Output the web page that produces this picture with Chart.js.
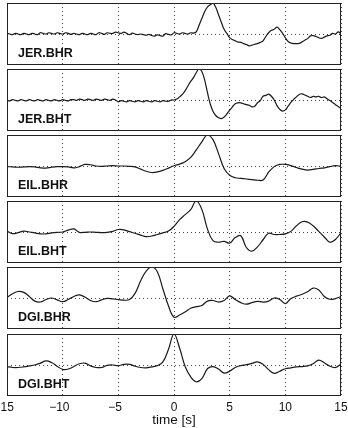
<!DOCTYPE html>
<html>
<head>
<meta charset="utf-8">
<script src="https://cdn.jsdelivr.net/npm/chart.js@4.4.1/dist/chart.umd.min.js"></script>
<style>
  html, body { margin: 0; padding: 0; background: #fff; }
  body { width: 348px; height: 428px; position: relative; overflow: hidden; }
  canvas { position: absolute; left: 0; }
</style>
</head>
<body>
<canvas id="c0" width="348" height="62" style="top:3px"></canvas>
<canvas id="c1" width="348" height="62" style="top:69px"></canvas>
<canvas id="c2" width="348" height="62" style="top:135px"></canvas>
<canvas id="c3" width="348" height="62" style="top:201px"></canvas>
<canvas id="c4" width="348" height="62" style="top:267px"></canvas>
<canvas id="c5" width="348" height="94" style="top:334px"></canvas>
<script>
// station / component names, one per panel
const stations = ['JER.BHR', 'JER.BHT', 'EIL.BHR', 'EIL.BHT', 'DGI.BHR', 'DGI.BHT'];
const xTicks = [-15, -10, -5, 0, 5, 10, 15];
const xTitle = 'time [s]';

// normalised traces, -15 s .. 15 s (JER every 0.25 s, others every 0.5 s)
const jerBhr = [
  0.02, 0.00, -0.02, 0.02, 0.00, -0.02, 0.02, 0.00,
  -0.02, 0.02, 0.00, -0.02, 0.04, 0.02, 0.00, 0.04,
  0.02, 0.00, 0.04, 0.02, 0.00, 0.04, 0.02, -0.01,
  0.02, 0.00, -0.02, 0.02, 0.00, -0.02, 0.02, 0.00,
  -0.02, 0.04, 0.02, -0.01, 0.04, 0.02, 0.02, 0.06,
  0.04, 0.02, 0.06, 0.02, -0.02, 0.03, 0.00, -0.02,
  0.00, -0.02, -0.04, -0.01, -0.05, -0.07, -0.03, -0.05,
  -0.07, 0.01, -0.01, -0.03, 0.04, 0.02, 0.00, 0.04,
  0.02, 0.00, 0.04, 0.03, 0.07, 0.28, 0.50, 0.72,
  0.87, 0.94, 1.00, 0.86, 0.62, 0.38, 0.15, 0.02,
  -0.12, -0.18, -0.22, -0.26, -0.27, -0.31, -0.34, -0.38,
  -0.36, -0.33, -0.31, -0.27, -0.22, -0.08, 0.04, 0.12,
  0.15, 0.22, 0.14, 0.02, -0.12, -0.24, -0.29, -0.31,
  -0.31, -0.30, -0.26, -0.20, -0.15, -0.06, -0.05, -0.08,
  -0.12, -0.14, -0.10, -0.06, -0.04, 0.02, 0.00, 0.07,
  0.00
];
const jerBht = [
  -0.01, -0.03, 0.01, -0.01, -0.03, 0.01, -0.01, -0.03,
  0.01, -0.01, -0.03, 0.01, -0.01, -0.03, 0.01, -0.01,
  -0.03, 0.01, -0.01, -0.03, 0.01, -0.01, -0.03, 0.01,
  0.01, -0.01, 0.03, 0.01, -0.01, 0.03, 0.01, -0.01,
  0.03, 0.01, -0.01, 0.03, 0.01, -0.01, 0.03, 0.00,
  -0.06, -0.02, -0.04, -0.06, -0.02, -0.04, -0.06, -0.02,
  -0.04, -0.06, -0.02, -0.04, -0.06, -0.02, -0.04, -0.06,
  -0.02, -0.04, -0.04, 0.00, 0.00, 0.03, 0.10, 0.18,
  0.30, 0.45, 0.60, 0.72, 0.88, 1.00, 0.92, 0.65,
  0.25, -0.12, -0.36, -0.50, -0.57, -0.60, -0.55, -0.45,
  -0.33, -0.22, -0.12, -0.09, -0.09, -0.12, -0.15, -0.17,
  -0.22, -0.20, -0.09, -0.02, 0.12, 0.15, 0.19, 0.12,
  0.00, -0.18, -0.30, -0.36, -0.32, -0.20, -0.08, 0.02,
  0.10, 0.18, 0.20, 0.16, 0.12, 0.08, 0.12, 0.10,
  0.12, 0.08, 0.10, 0.04, -0.02, -0.08, -0.15, -0.21,
  -0.27
];
const eilBhr = [
  -0.02, -0.03, -0.04, -0.03, -0.02, -0.03, -0.06, -0.07, -0.04, -0.02,
  -0.02, -0.03, -0.06, -0.02, 0.05, 0.04, 0.00, -0.01, 0.00, 0.01,
  0.00, 0.00, -0.01, -0.03, -0.10, -0.17, -0.21, -0.19, -0.14, -0.07,
  0.01, 0.06, 0.14, 0.28, 0.52, 0.78, 1.00, 0.85, 0.40, -0.08,
  -0.30, -0.38, -0.40, -0.42, -0.44, -0.46, -0.45, -0.20, -0.02, 0.05,
  0.05, 0.01, -0.05, -0.10, -0.13, -0.11, -0.08, -0.06, -0.02, 0.01,
  -0.01
];
const eilBht = [
  0.03, -0.05, -0.02, 0.03, 0.00, -0.03, -0.06, -0.06, -0.03, -0.01,
  0.00, 0.06, 0.10, -0.01, -0.01, 0.00, -0.01, -0.02, -0.01, 0.02,
  0.08, 0.07, 0.01, -0.04, -0.10, -0.15, -0.13, -0.08, -0.03, 0.03,
  0.18, 0.40, 0.56, 0.72, 1.00, 0.73, 0.10, -0.28, -0.33, -0.30,
  -0.36, -0.18, -0.12, -0.50, -0.62, -0.48, -0.25, -0.04, -0.08, -0.08,
  -0.06, 0.02, 0.20, 0.33, 0.32, 0.20, 0.02, -0.16, -0.33, -0.24,
  -0.02
];
const dgiBhr = [
  0.02, 0.14, 0.21, 0.18, 0.05, -0.10, -0.13, -0.05, 0.00, -0.06,
  -0.12, -0.05, 0.05, 0.10, 0.03, -0.08, -0.12, -0.06, -0.01, -0.03,
  -0.05, -0.07, -0.05, 0.15, 0.55, 0.87, 1.00, 0.85, 0.30, -0.25,
  -0.62, -0.55, -0.45, -0.33, -0.28, -0.24, -0.10, -0.08, -0.13, -0.08,
  0.07, -0.05, -0.15, -0.20, -0.15, -0.11, -0.13, -0.10, 0.00, -0.05,
  -0.18, -0.02, 0.06, 0.12, 0.20, 0.32, 0.26, 0.05, -0.04, -0.02,
  0.05
];
const dgiBht = [
  -0.05, -0.08, -0.08, -0.06, -0.03, 0.00, 0.06, 0.13, 0.08, -0.04,
  -0.14, -0.13, -0.05, 0.04, 0.06, -0.03, -0.08, -0.08, -0.01, 0.00,
  -0.02, 0.02, 0.02, -0.04, -0.08, -0.09, -0.06, -0.02, 0.10, 0.50,
  1.00, 0.55, -0.05, -0.38, -0.54, -0.44, -0.12, -0.05, -0.13, -0.26,
  -0.20, -0.08, -0.02, 0.01, 0.05, 0.10, 0.02, -0.15, -0.27, -0.20,
  -0.12, -0.09, -0.06, -0.05, -0.03, 0.04, 0.16, 0.07, -0.04, -0.08,
  0.03
];
const traces = [jerBhr, jerBht, eilBhr, eilBht, dgiBhr, dgiBht];

Chart.defaults.font.family = '"Liberation Sans", Arial, Helvetica, sans-serif';
Chart.defaults.color = '#111';

// box round the axes + station label in the lower left corner
const boxPlugin = {
  id: 'box',
  afterDraw(chart, args, opts) {
    const { ctx, chartArea: a } = chart;
    ctx.save();
    ctx.strokeStyle = '#222';
    ctx.lineWidth = 1;
    ctx.strokeRect(a.left + 0.5, a.top + 0.5, a.width - 1, a.height - 1);
    ctx.fillStyle = '#111';
    ctx.font = 'bold 12.5px "Liberation Sans", Arial, sans-serif';
    ctx.textBaseline = 'alphabetic';
    ctx.fillText(opts.label, a.left + 11, a.top + 54);
    ctx.restore();
  }
};

// matlab style minus; trailing spaces keep the digits centred on the tick
const minusFmt = v => v < 0 ? '\u2212' + Math.abs(v) + '  ' : String(v);

traces.forEach((vals, i) => {
  const last = i === traces.length - 1;
  const step = 30 / (vals.length - 1);
  const points = vals.map((v, k) => ({ x: -15 + k * step, y: v }));
  new Chart(document.getElementById('c' + i), {
    type: 'line',
    data: {
      datasets: [{
        data: points,
        borderColor: '#1a1a1a',
        borderWidth: 1.2,
        pointRadius: 0,
        tension: 0.4,
        fill: false
      }]
    },
    options: {
      responsive: false,
      animation: false,
      events: [],
      layout: { padding: { left: 7, right: 7, top: 0, bottom: 0 } },
      plugins: {
        legend: { display: false },
        tooltip: { enabled: false },
        box: { label: stations[i] }
      },
      scales: {
        x: {
          type: 'linear',
          min: -15,
          max: 15,
          afterBuildTicks: s => { s.ticks = xTicks.map(v => ({ value: v })); },
          afterFit: s => {
            s.paddingLeft = 0;
            s.paddingRight = 0;
            if (last) s.height = 32;
          },
          grid: { color: '#444', lineWidth: 1, drawTicks: false },
          border: { display: false, dash: [1, 3] },
          ticks: {
            display: last,
            padding: 4,
            maxRotation: 0,
            autoSkip: false,
            font: { size: 12 },
            callback: minusFmt
          },
          title: {
            display: last,
            text: xTitle,
            font: { size: 13.5 },
            padding: { top: 0, bottom: 0 }
          }
        },
        y: {
          min: -1,
          max: 1,
          ticks: { display: false, stepSize: 1 },
          grid: {
            drawTicks: false,
            color: c => (c.tick && c.tick.value === 0) ? '#444' : 'rgba(0,0,0,0)'
          },
          border: { display: false, dash: [1, 3] }
        }
      }
    },
    plugins: [boxPlugin]
  });
});
</script>
</body>
</html>
